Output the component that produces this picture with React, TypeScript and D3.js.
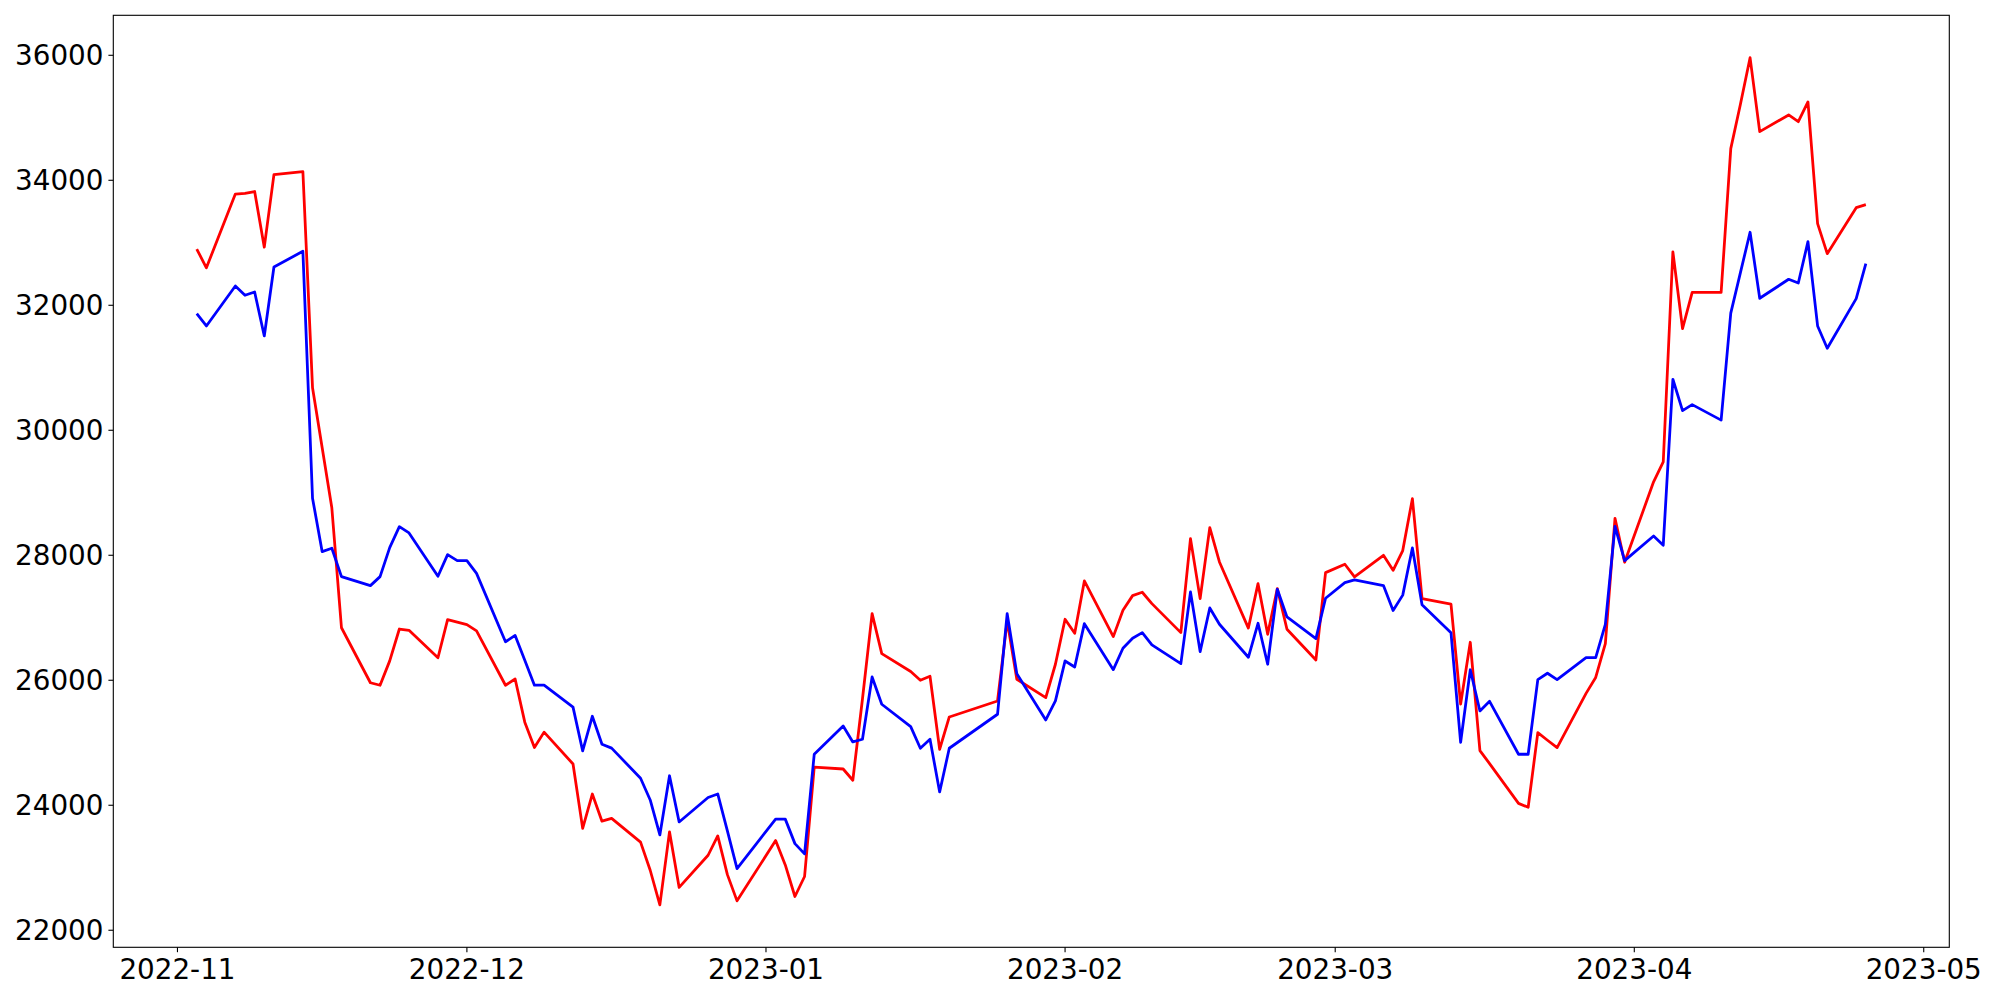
import React, { useEffect, useRef } from 'react';
import * as d3 from 'd3';

// trading days (weekdays, minus 2022-12-30, 2023-01-23/24, 2023-03-01)
const dates: string[] = [
  '2022-11-03', '2022-11-04', '2022-11-07', '2022-11-08', '2022-11-09', '2022-11-10', '2022-11-11',
  '2022-11-14', '2022-11-15', '2022-11-16', '2022-11-17', '2022-11-18', '2022-11-21', '2022-11-22',
  '2022-11-23', '2022-11-24', '2022-11-25', '2022-11-28', '2022-11-29', '2022-11-30',
  '2022-12-01', '2022-12-02', '2022-12-05', '2022-12-06', '2022-12-07', '2022-12-08', '2022-12-09',
  '2022-12-12', '2022-12-13', '2022-12-14', '2022-12-15', '2022-12-16', '2022-12-19', '2022-12-20',
  '2022-12-21', '2022-12-22', '2022-12-23', '2022-12-26', '2022-12-27', '2022-12-28', '2022-12-29',
  '2023-01-02', '2023-01-03', '2023-01-04', '2023-01-05', '2023-01-06', '2023-01-09', '2023-01-10',
  '2023-01-11', '2023-01-12', '2023-01-13', '2023-01-16', '2023-01-17', '2023-01-18', '2023-01-19',
  '2023-01-20', '2023-01-25', '2023-01-26', '2023-01-27', '2023-01-30', '2023-01-31',
  '2023-02-01', '2023-02-02', '2023-02-03', '2023-02-06', '2023-02-07', '2023-02-08', '2023-02-09',
  '2023-02-10', '2023-02-13', '2023-02-14', '2023-02-15', '2023-02-16', '2023-02-17', '2023-02-20',
  '2023-02-21', '2023-02-22', '2023-02-23', '2023-02-24', '2023-02-27', '2023-02-28',
  '2023-03-02', '2023-03-03', '2023-03-06', '2023-03-07', '2023-03-08', '2023-03-09', '2023-03-10',
  '2023-03-13', '2023-03-14', '2023-03-15', '2023-03-16', '2023-03-17', '2023-03-20', '2023-03-21',
  '2023-03-22', '2023-03-23', '2023-03-24', '2023-03-27', '2023-03-28', '2023-03-29', '2023-03-30',
  '2023-03-31',
  '2023-04-03', '2023-04-04', '2023-04-05', '2023-04-06', '2023-04-07', '2023-04-10', '2023-04-11',
  '2023-04-12', '2023-04-13', '2023-04-14', '2023-04-17', '2023-04-18', '2023-04-19', '2023-04-20',
  '2023-04-21', '2023-04-24', '2023-04-25',
];

const redValues: number[] = [
  32900, 32600, 33780, 33790, 33820, 32930, 34090, 34140, 30680, 29720, 28760, 26840, 25960, 25920,
  26310, 26820, 26800, 26360, 26970, 26930,
  26890, 26790, 25920, 26020, 25330, 24925, 25170, 24660, 23630, 24180, 23745, 23790, 23410, 22960,
  22405, 23575, 22685, 23200, 23510, 22890, 22470,
  23435, 23045, 22540, 22860, 24610, 24580, 24400, 25700, 27066, 26426, 26140, 26000, 26064, 24896,
  25413, 25669, 26950, 26016, 25722, 26256,
  26976, 26752, 27589, 26698, 27120, 27354, 27408, 27226, 26762, 28266, 27306, 28442, 27893, 26835,
  27546, 26736, 27466, 26816, 26325, 27722,
  27856, 27653, 28000, 27760, 28075, 28906, 27306, 27220, 25620, 26608, 24875, 24666, 24030, 23968,
  25162, 25040, 24922, 25790, 26045, 26586, 28590, 27888,
  29175, 29493, 32855, 31626, 32207, 32207, 34506, 35216, 35962, 34778, 35045, 34938, 35253, 33306,
  32826, 33562, 33610,
];

const blueValues: number[] = [
  31866, 31669, 32309, 32160, 32213, 31509, 32613, 32864, 28913, 28058, 28112, 27658, 27514, 27658,
  28122, 28458, 28357, 27664, 28010, 27914,
  27914, 27710, 26616, 26717, 26320, 25922, 25922, 25570, 24869, 25424, 24976, 24914, 24432, 24085,
  23525, 24472, 23733, 24125, 24181, 23590, 22987,
  23778, 23778, 23386, 23222, 24815, 25268, 25013, 25056, 26053, 25616, 25258, 24912, 25056, 24213,
  24912, 25456, 27066, 26106, 25365, 25669,
  26309, 26213, 26906, 26170, 26512, 26672, 26762, 26565, 26266, 27413, 26458, 27157, 26896, 26368,
  26912, 26256, 27456, 27013, 26666, 27312,
  27562, 27605, 27515, 27115, 27362, 28117, 27208, 26762, 25008, 26168, 25509, 25663, 24816, 24816,
  26010, 26112, 26010, 26362, 26362, 26896, 28461, 27914,
  28309, 28160, 30816, 30315, 30410, 30162, 31874, 32522, 33168, 32112, 32416, 32357, 33018, 31669,
  31312, 32106, 32666,
];

const yTicks = [22000, 24000, 26000, 28000, 30000, 32000, 34000, 36000];
const xTicks = ['2022-11-01', '2022-12-01', '2023-01-01', '2023-02-01', '2023-03-01', '2023-04-01', '2023-05-01'];

const W = 2000;
const H = 1000;
const left = 113.3, right = 1949.3, top = 15.3, bottom = 947.3;
const FONT = '"DejaVu Sans", sans-serif';
const FS = 27.8;

export default function App() {
  const svgRef = useRef<SVGSVGElement>(null);

  useEffect(() => {
    document.body.style.margin = '0';
    if (!svgRef.current) return;
    const svg = d3.select(svgRef.current);
    svg.selectAll('*').remove();

    const parse = d3.utcParse('%Y-%m-%d');
    const xs = dates.map(d => parse(d) as Date);

    // matplotlib-like 5% margins
    const [t0, t1] = d3.extent(xs) as [Date, Date];
    const span = +t1 - +t0;
    const x = d3.scaleUtc()
      .domain([new Date(+t0 - span * 0.05), new Date(+t1 + span * 0.05)])
      .range([left, right]);

    const all = redValues.concat(blueValues);
    const lo = d3.min(all)!, hi = d3.max(all)!;
    const pad = (hi - lo) * 0.05;
    const y = d3.scaleLinear().domain([lo - pad, hi + pad]).range([bottom, top]);

    svg.append('rect')
      .attr('width', W).attr('height', H).attr('fill', '#fff');

    const line = d3.line<number>()
      .x((_, i) => x(xs[i]))
      .y(d => y(d));

    svg.append('path')
      .datum(redValues)
      .attr('d', line)
      .attr('fill', 'none')
      .attr('stroke', '#ff0000')
      .attr('stroke-width', 2.78)
      .attr('stroke-linejoin', 'round');

    svg.append('path')
      .datum(blueValues)
      .attr('d', line)
      .attr('fill', 'none')
      .attr('stroke', '#0000ff')
      .attr('stroke-width', 2.78)
      .attr('stroke-linejoin', 'round');

    // frame
    svg.append('rect')
      .attr('x', left).attr('y', top)
      .attr('width', right - left).attr('height', bottom - top)
      .attr('fill', 'none').attr('stroke', '#000').attr('stroke-width', 1.1);

    // y ticks
    const yg = svg.append('g');
    yg.selectAll('line').data(yTicks).join('line')
      .attr('x1', left - 4.9).attr('x2', left)
      .attr('y1', d => y(d)).attr('y2', d => y(d))
      .attr('stroke', '#000').attr('stroke-width', 1.1);
    yg.selectAll('text').data(yTicks).join('text')
      .attr('x', left - 9.8)
      .attr('y', d => y(d) + 10.1)
      .attr('text-anchor', 'end')
      .attr('font-family', FONT)
      .attr('font-size', FS)
      .attr('fill', '#000')
      .text(d => String(d));

    // x ticks
    const xd = xTicks.map(d => parse(d) as Date);
    const xg = svg.append('g');
    xg.selectAll('line').data(xd).join('line')
      .attr('x1', d => x(d)).attr('x2', d => x(d))
      .attr('y1', bottom).attr('y2', bottom + 4.9)
      .attr('stroke', '#000').attr('stroke-width', 1.1);
    xg.selectAll('text').data(xd).join('text')
      .attr('x', d => x(d))
      .attr('y', bottom + 31.5)
      .attr('text-anchor', 'middle')
      .attr('font-family', FONT)
      .attr('font-size', FS)
      .attr('fill', '#000')
      .text(d => d3.utcFormat('%Y-%m')(d));
  }, []);

  return (
    <svg
      ref={svgRef}
      width={W}
      height={H}
      style={{ display: 'block', position: 'absolute', left: 0, top: 0 }}
    />
  );
}
